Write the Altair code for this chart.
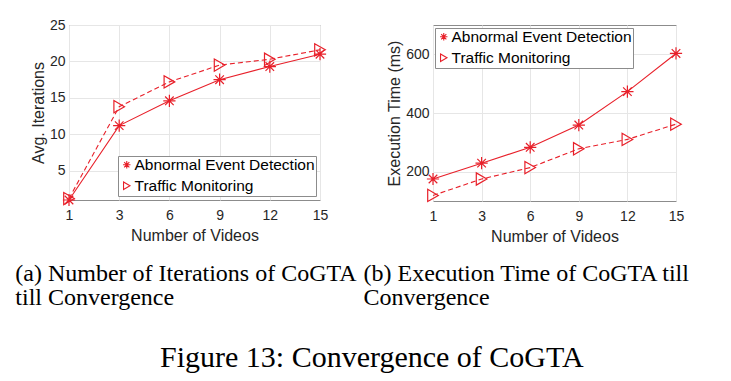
import altair as alt
import pandas as pd

videos = ["1", "3", "6", "9", "12", "15"]
series = ["Abnormal Event Detection", "Traffic Monitoring"]
iter_abnormal = [1.0, 11.2, 14.6, 17.5, 19.3, 21.0]
iter_traffic = [1.2, 13.8, 17.2, 19.5, 20.3, 21.6]
time_abnormal = [175, 229, 283, 359, 473, 603]
time_traffic = [119, 175, 214, 278, 310, 362]
iter_ticks = [5, 10, 15, 20, 25]
time_ticks = [200, 400, 600]
caption_a = ["(a) Number of Iterations of CoGTA", "till Convergence"]
caption_b = ["(b) Execution Time of CoGTA till", "Convergence"]
figure_caption = "Figure 13: Convergence of CoGTA"

RED = "#e8202a"
INK = "#262626"
ASTERISK = "M-1,0L1,0M0,-1L0,1M-0.7,-0.7L0.7,0.7M-0.7,0.7L0.7,-0.7"


def frame(a, b):
    rows = []
    for v, y in zip(videos, a):
        rows.append({"videos": v, "value": y, "series": series[0]})
    for v, y in zip(videos, b):
        rows.append({"videos": v, "value": y, "series": series[1]})
    return pd.DataFrame(rows)


def panel(df, ytitle, ydomain, yticks, lx, ly, w, h):
    base = alt.Chart(df).encode(
        x=alt.X("videos:O", sort=videos,
                scale=alt.Scale(type="point", padding=0),
                axis=alt.Axis(title="Number of Videos", labelAngle=0, grid=True,
                              labelPadding=8, titlePadding=5)),
        y=alt.Y("value:Q", scale=alt.Scale(domain=ydomain, nice=False, zero=False),
                axis=alt.Axis(title=ytitle, values=yticks, grid=True,
                              labelPadding=4, titlePadding=3)),
    )
    line_a = base.transform_filter(alt.datum.series == series[0]).mark_line(
        color=RED, strokeWidth=1.1)
    line_b = base.transform_filter(alt.datum.series == series[1]).mark_line(
        color=RED, strokeWidth=1.1, strokeDash=[5, 3])
    pts = base.mark_point(color=RED, filled=False, strokeWidth=1.2, size=150, opacity=1).encode(
        shape=alt.Shape("series:N",
                        scale=alt.Scale(domain=series, range=[ASTERISK, "triangle-right"]),
                        legend=alt.Legend(title=None, orient="none", legendX=lx, legendY=ly,
                                          fillColor="white", strokeColor="#8c8c8c",
                                          padding=1, labelFontSize=15.5, labelLimit=400,
                                          labelFont="Liberation Sans", labelColor="black",
                                          symbolSize=55, symbolStrokeColor=RED,
                                          symbolStrokeWidth=1.1, symbolFillColor="transparent",
                                          labelOffset=0, rowPadding=4))
    )
    return alt.layer(line_a, line_b, pts).properties(width=w, height=h)


pa = panel(frame(iter_abnormal, iter_traffic), "Avg. Iterations", [1, 25], iter_ticks,
           49, 131, 251, 175)
pb = panel(frame(time_abnormal, time_traffic), "Execution Time (ms)", [100, 700], time_ticks,
           2, 3, 243, 176)

top = alt.hconcat(pa, pb, spacing=56).resolve_scale(shape="independent").resolve_legend(
    shape="independent")

cap_base = alt.Chart(pd.DataFrame({"k": [0]}))
cap_a = cap_base.mark_text(text=caption_a, font="Liberation Serif", fontSize=24,
                           align="left", baseline="alphabetic", lineHeight=24,
                           color="black").encode(x=alt.value(-53.7), y=alt.value(30))
cap_b = cap_base.mark_text(text=caption_b, font="Liberation Serif", fontSize=24,
                           align="left", baseline="alphabetic", lineHeight=24,
                           color="black").encode(x=alt.value(294.5), y=alt.value(30))
cap_fig = cap_base.mark_text(text=figure_caption, font="Liberation Serif", fontSize=30,
                             align="center", baseline="alphabetic",
                             color="black").encode(x=alt.value(302.8), y=alt.value(116))
captions = alt.layer(cap_a, cap_b, cap_fig).properties(
    width=300, height=120, view=alt.ViewBackground(stroke="transparent"))

chart = alt.vconcat(top, captions, spacing=5).properties(
    padding={"left": 6, "top": 9, "right": 0, "bottom": 0}, background="white"
).configure_view(stroke="#8c8c8c").configure_axis(
    labelFont="Liberation Sans", labelFontSize=14, labelColor=INK,
    titleFont="Liberation Sans", titleFontSize=16, titleFontWeight="normal", titleColor=INK,
    domain=False, ticks=False, gridColor="#e6e6e6", gridWidth=1
)

chart.save("out.html", embed_options={"renderer": "svg", "actions": False})
